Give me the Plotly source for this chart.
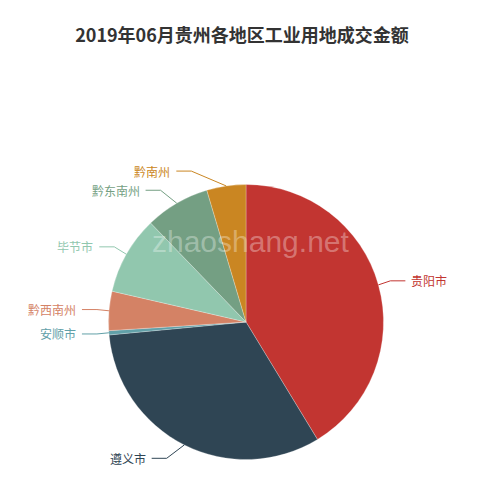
import math
import plotly.graph_objects as go

# 图表尺寸
W, H = 500, 490
OFF = 8  # 页面body默认边距

# 数据
regions = ["贵阳市", "遵义市", "安顺市", "黔西南州", "毕节市", "黔东南州", "黔南州"]
amounts = [41.3, 32.2, 0.5, 4.6, 9.2, 7.6, 4.6]
colors = ["#c23531", "#2f4554", "#61a0a8", "#d48265", "#91c7ae", "#749f83", "#ca8622"]

title = "2019年06月贵州各地区工业用地成交金额"
watermark = "zhaoshang.net"

# 饼图位置（像素）
cx, cy, r = 246, 322, 137.5
len1, len2 = 15, 15


def px(x):
    return (x - OFF) / W


def py(y):
    return 1 - (y - OFF) / H


fig = go.Figure()
fig.add_trace(
    go.Pie(
        labels=regions,
        values=amounts,
        sort=False,
        direction="clockwise",
        rotation=0,
        marker=dict(colors=colors, line=dict(color="rgba(255,255,255,0.5)", width=0.5)),
        textinfo="none",
        hoverinfo="label+value+percent",
        showlegend=False,
        domain=dict(x=[px(cx - r), px(cx + r)], y=[py(cy + r), py(cy - r)]),
    )
)

# 引导线和标签（按echarts的方式计算）
shapes = []
annotations = []
total = sum(amounts)
acum = 0
for name, v, c in zip(regions, amounts, colors):
    mid = (acum + v / 2) / total * 2 * math.pi
    acum += v
    s, co = math.sin(mid), math.cos(mid)
    x1, y1 = cx + r * s, cy - r * co
    ey = cy - (r + len1) * co
    lado = 1 if s >= 0 else -1
    dy = abs(ey - cy)
    xl = cx + lado * math.sqrt((r + len1 + len2) ** 2 - dy ** 2)
    x3 = xl - lado * 3
    x2 = x3 - lado * len2
    path = f"M {px(x1)},{py(y1)} L {px(x2)},{py(ey)} L {px(x3)},{py(ey)}"
    shapes.append(
        dict(type="path", path=path, xref="paper", yref="paper",
             line=dict(color=c, width=1))
    )
    annotations.append(
        dict(text=name, x=px(xl + lado * 1), y=py(ey), xref="paper", yref="paper",
             xanchor="left" if lado > 0 else "right", yanchor="middle",
             showarrow=False, font=dict(size=12, color=c, family="Noto Sans CJK SC"))
    )

# 水印
annotations.append(
    dict(text=watermark, x=px(250), y=py(242), xref="paper", yref="paper",
         xanchor="center", yanchor="middle", showarrow=False,
         font=dict(size=30, color="rgba(255,255,255,0.33)", family="Liberation Sans"))
)

fig.update_layout(
    width=W,
    height=H,
    margin=dict(l=0, r=0, t=0, b=0),
    paper_bgcolor="white",
    plot_bgcolor="white",
    title=dict(
        text="<b>" + title + "</b>",
        x=px(242),
        y=py(36),
        xanchor="center",
        yanchor="middle",
        font=dict(size=18, color="#333333", family="Noto Sans CJK SC"),
    ),
    shapes=shapes,
    annotations=annotations,
)

fig.write_html("out.html")
